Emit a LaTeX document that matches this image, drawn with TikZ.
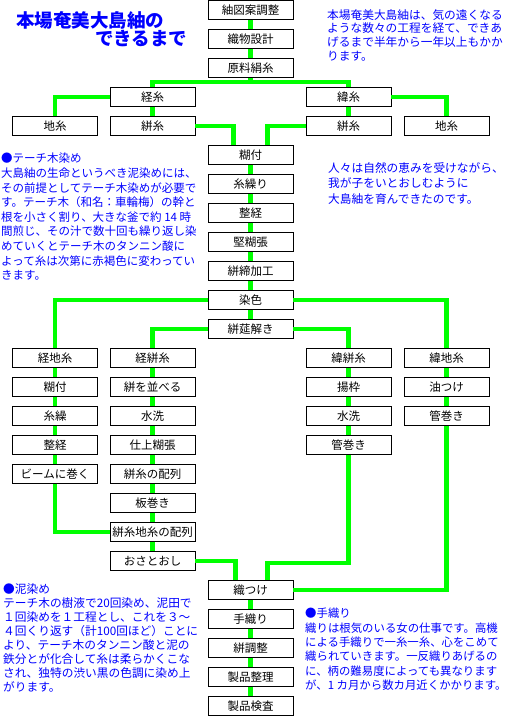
\documentclass[tikz,border=0pt]{standalone}
\usepackage{fontspec}
\newfontfamily\jp{Noto Sans CJK JP}
\usetikzlibrary{calc}
\definecolor{linegreen}{RGB}{0,255,0}
\definecolor{noteblue}{RGB}{0,0,255}

\begin{document}
\begin{tikzpicture}[x=1pt, y=-1pt,
    koutei/.style={draw, line width=0.9pt, fill=white, minimum width=85pt, minimum height=19pt,
      inner sep=0pt, font=\jp\fontsize{11.5}{12}\selectfont},
    link/.style={draw=linegreen, line width=4.6pt},
    note/.style 2 args={text=noteblue, align=left, inner sep=0pt, anchor=north west,
      font=\jp\fontsize{#1}{#2}\selectfont},
    title/.style={text=noteblue, inner sep=0pt, anchor=west, font=\jp\bfseries\fontsize{18.5}{20}\selectfont}]
      \useasboundingbox (0,0) rectangle (510,717);

      % 1. 題と説明文
      \node[title] (title1) at (16,20) {本場奄美大島紬の};
      \node[title] (title2) at (95,38) {できるまで};
      \node[note={11.7}{13.7}] (setsumei) at (327,9) {本場奄美大島紬は、気の遠くなる\\ような数々の工程を経て、できあ\\げるまで半年から一年以上もかか\\ります。};
      \node[note={11.5}{14.6}] (techi) at (1,153) {●テーチ木染め\\大島紬の生命というべき泥染めには、\\その前提としてテーチ木染めが必要で\\す。テーチ木（和名：車輪梅）の幹と\\根を小さく割り、大きな釜で約 14 時\\間煎じ、その汁で数十回も繰り返し染\\めていくとテーチ木のタンニン酸に\\よって糸は次第に赤褐色に変わってい\\きます。};
      \node[note={11.7}{15.7}] (hitobito) at (328,162) {人々は自然の恵みを受けながら、\\我が子をいとおしむように\\大島紬を育んできたのです。};
      \node[note={11.7}{14.1}] (doro) at (3,583) {●泥染め\\テーチ木の樹液で20回染め、泥田で\\１回染めを１工程とし、これを３～\\４回くり返す（計100回ほど）ことに\\より、テーチ木のタンニン酸と泥の\\鉄分とが化合して糸は柔らかくこな\\され、独特の渋い黒の色調に染め上\\がります。};
      \node[note={11.4}{14.4}] (teoriNote) at (305,608) {●手織り\\織りは根気のいる女の仕事です。高機\\による手織りで一糸一糸、心をこめて\\織られていきます。一反織りあげるの\\に、柄の難易度によっても異なります\\が、1 カ月から数カ月近くかかります。};

      % 2. 上段の工程
      \node[koutei] (zuan) at (250.5,10) {紬図案調整};
      \node[koutei] (sekkei) at (250.5,39) {織物設計};
      \node[koutei] (genryo) at (250.5,68) {原料絹糸};
      \node[koutei] (tate) at (152.5,97) {経糸};
      \node[koutei] (yoko) at (348.5,97) {緯糸};
      \node[koutei] (jiL) at (55,126) {地糸};
      \node[koutei] (kasuriL) at (152.5,126) {絣糸};
      \node[koutei] (kasuriR) at (348.5,126) {絣糸};
      \node[koutei] (jiR) at (446.5,126) {地糸};
      \node[koutei] (norizuke) at (250.5,155) {糊付};
      \node[koutei] (itokuri) at (250.5,184) {糸繰り};
      \node[koutei] (seikei) at (250.5,213) {整経};
      \node[koutei] (katanori) at (250.5,242) {堅糊張};
      \node[koutei] (shime) at (250.5,271) {絣締加工};
      \node[koutei] (senshoku) at (250.5,300) {染色};
      \node[koutei] (hodoki) at (250.5,329) {絣莚解き};

      % 3. 経地糸・経絣糸・緯絣糸・緯地糸の列
      \node[koutei] (tatejii) at (55,358) {経地糸};
      \node[koutei] (noriL) at (55,387) {糊付};
      \node[koutei] (itokuriL) at (55,416) {糸繰};
      \node[koutei] (seikeiL) at (55,445) {整経};
      \node[koutei] (beam) at (55,474) {ビームに巻く};

      \node[koutei] (tatekasu) at (152.5,358) {経絣糸};
      \node[koutei] (narabe) at (152.5,387) {絣を並べる};
      \node[koutei] (suisenL) at (152.5,416) {水洗};
      \node[koutei] (shiage) at (152.5,445) {仕上糊張};
      \node[koutei] (hairetsu) at (152.5,474) {絣糸の配列};
      \node[koutei] (itamaki) at (152.5,503) {板巻き};
      \node[koutei] (jihairetsu) at (152.5,532) {絣糸地糸の配列};
      \node[koutei] (osa) at (152.5,561) {おさとおし};

      \node[koutei] (yokokasu) at (348.5,358) {緯絣糸};
      \node[koutei] (agewaku) at (348.5,387) {揚枠};
      \node[koutei] (suisenR) at (348.5,416) {水洗};
      \node[koutei] (kanmakiR) at (348.5,445) {管巻き};

      \node[koutei] (yokojii) at (446.5,358) {緯地糸};
      \node[koutei] (abura) at (446.5,387) {油つけ};
      \node[koutei] (kanmakiJ) at (446.5,416) {管巻き};

      % 4. 下段の工程
      \node[koutei] (oritsuke) at (250.5,590) {織つけ};
      \node[koutei] (teori) at (250.5,619) {手織り};
      \node[koutei] (chousei) at (250.5,648) {絣調整};
      \node[koutei] (seiri) at (250.5,677) {製品整理};
      \node[koutei] (kensa) at (250.5,706) {製品検査};

      % 5. 分岐点と入口
      \coordinate (bunki) at ($(genryo.south)+(0,4)$);
      \coordinate (noriInL) at ($(norizuke.north)+(-17,0)$);
      \coordinate (noriInR) at ($(norizuke.north)+(17,0)$);
      \coordinate (oriInL) at ($(oritsuke.north)+(-15,0)$);
      \coordinate (oriInR) at ($(oritsuke.north)+(17,0)$);
      \coordinate (oriBend) at ($(oriInR)+(0,-17)$);

      % 6. 緑の線
      \foreach \a/\b in {zuan/sekkei, sekkei/genryo, tate/kasuriL, yoko/kasuriR,
          norizuke/itokuri, itokuri/seikei, seikei/katanori, katanori/shime, shime/senshoku, senshoku/hodoki,
          tatejii/noriL, noriL/itokuriL, itokuriL/seikeiL, seikeiL/beam,
          tatekasu/narabe, narabe/suisenL, suisenL/shiage, shiage/hairetsu, hairetsu/itamaki, itamaki/jihairetsu, jihairetsu/osa,
          yokokasu/agewaku, agewaku/suisenR, suisenR/kanmakiR,
          yokojii/abura, abura/kanmakiJ,
          oritsuke/teori, teori/chousei, chousei/seiri, seiri/kensa}
        \draw[link] (\a) -- (\b);
      \draw[link] (genryo) -- (bunki);
      \draw[link] (tate) |- (bunki) -| (yoko);
      \draw[link] (tate) -| (jiL);
      \draw[link] (yoko) -| (jiR);
      \draw[link] (kasuriL) -| (noriInL);
      \draw[link] (kasuriR) -| (noriInR);
      \draw[link] (senshoku) -| (tatejii);
      \draw[link] (senshoku) -| (yokojii);
      \draw[link] (hodoki) -| (tatekasu);
      \draw[link] (hodoki) -| (yokokasu);
      \draw[link] (beam) |- (jihairetsu);
      \draw[link] (osa) -| (oriInL);
      \draw[link] (kanmakiR) |- (oriBend) -- (oriInR);
      \draw[link] (kanmakiJ) |- (oritsuke);
    \end{tikzpicture}
\end{document}
